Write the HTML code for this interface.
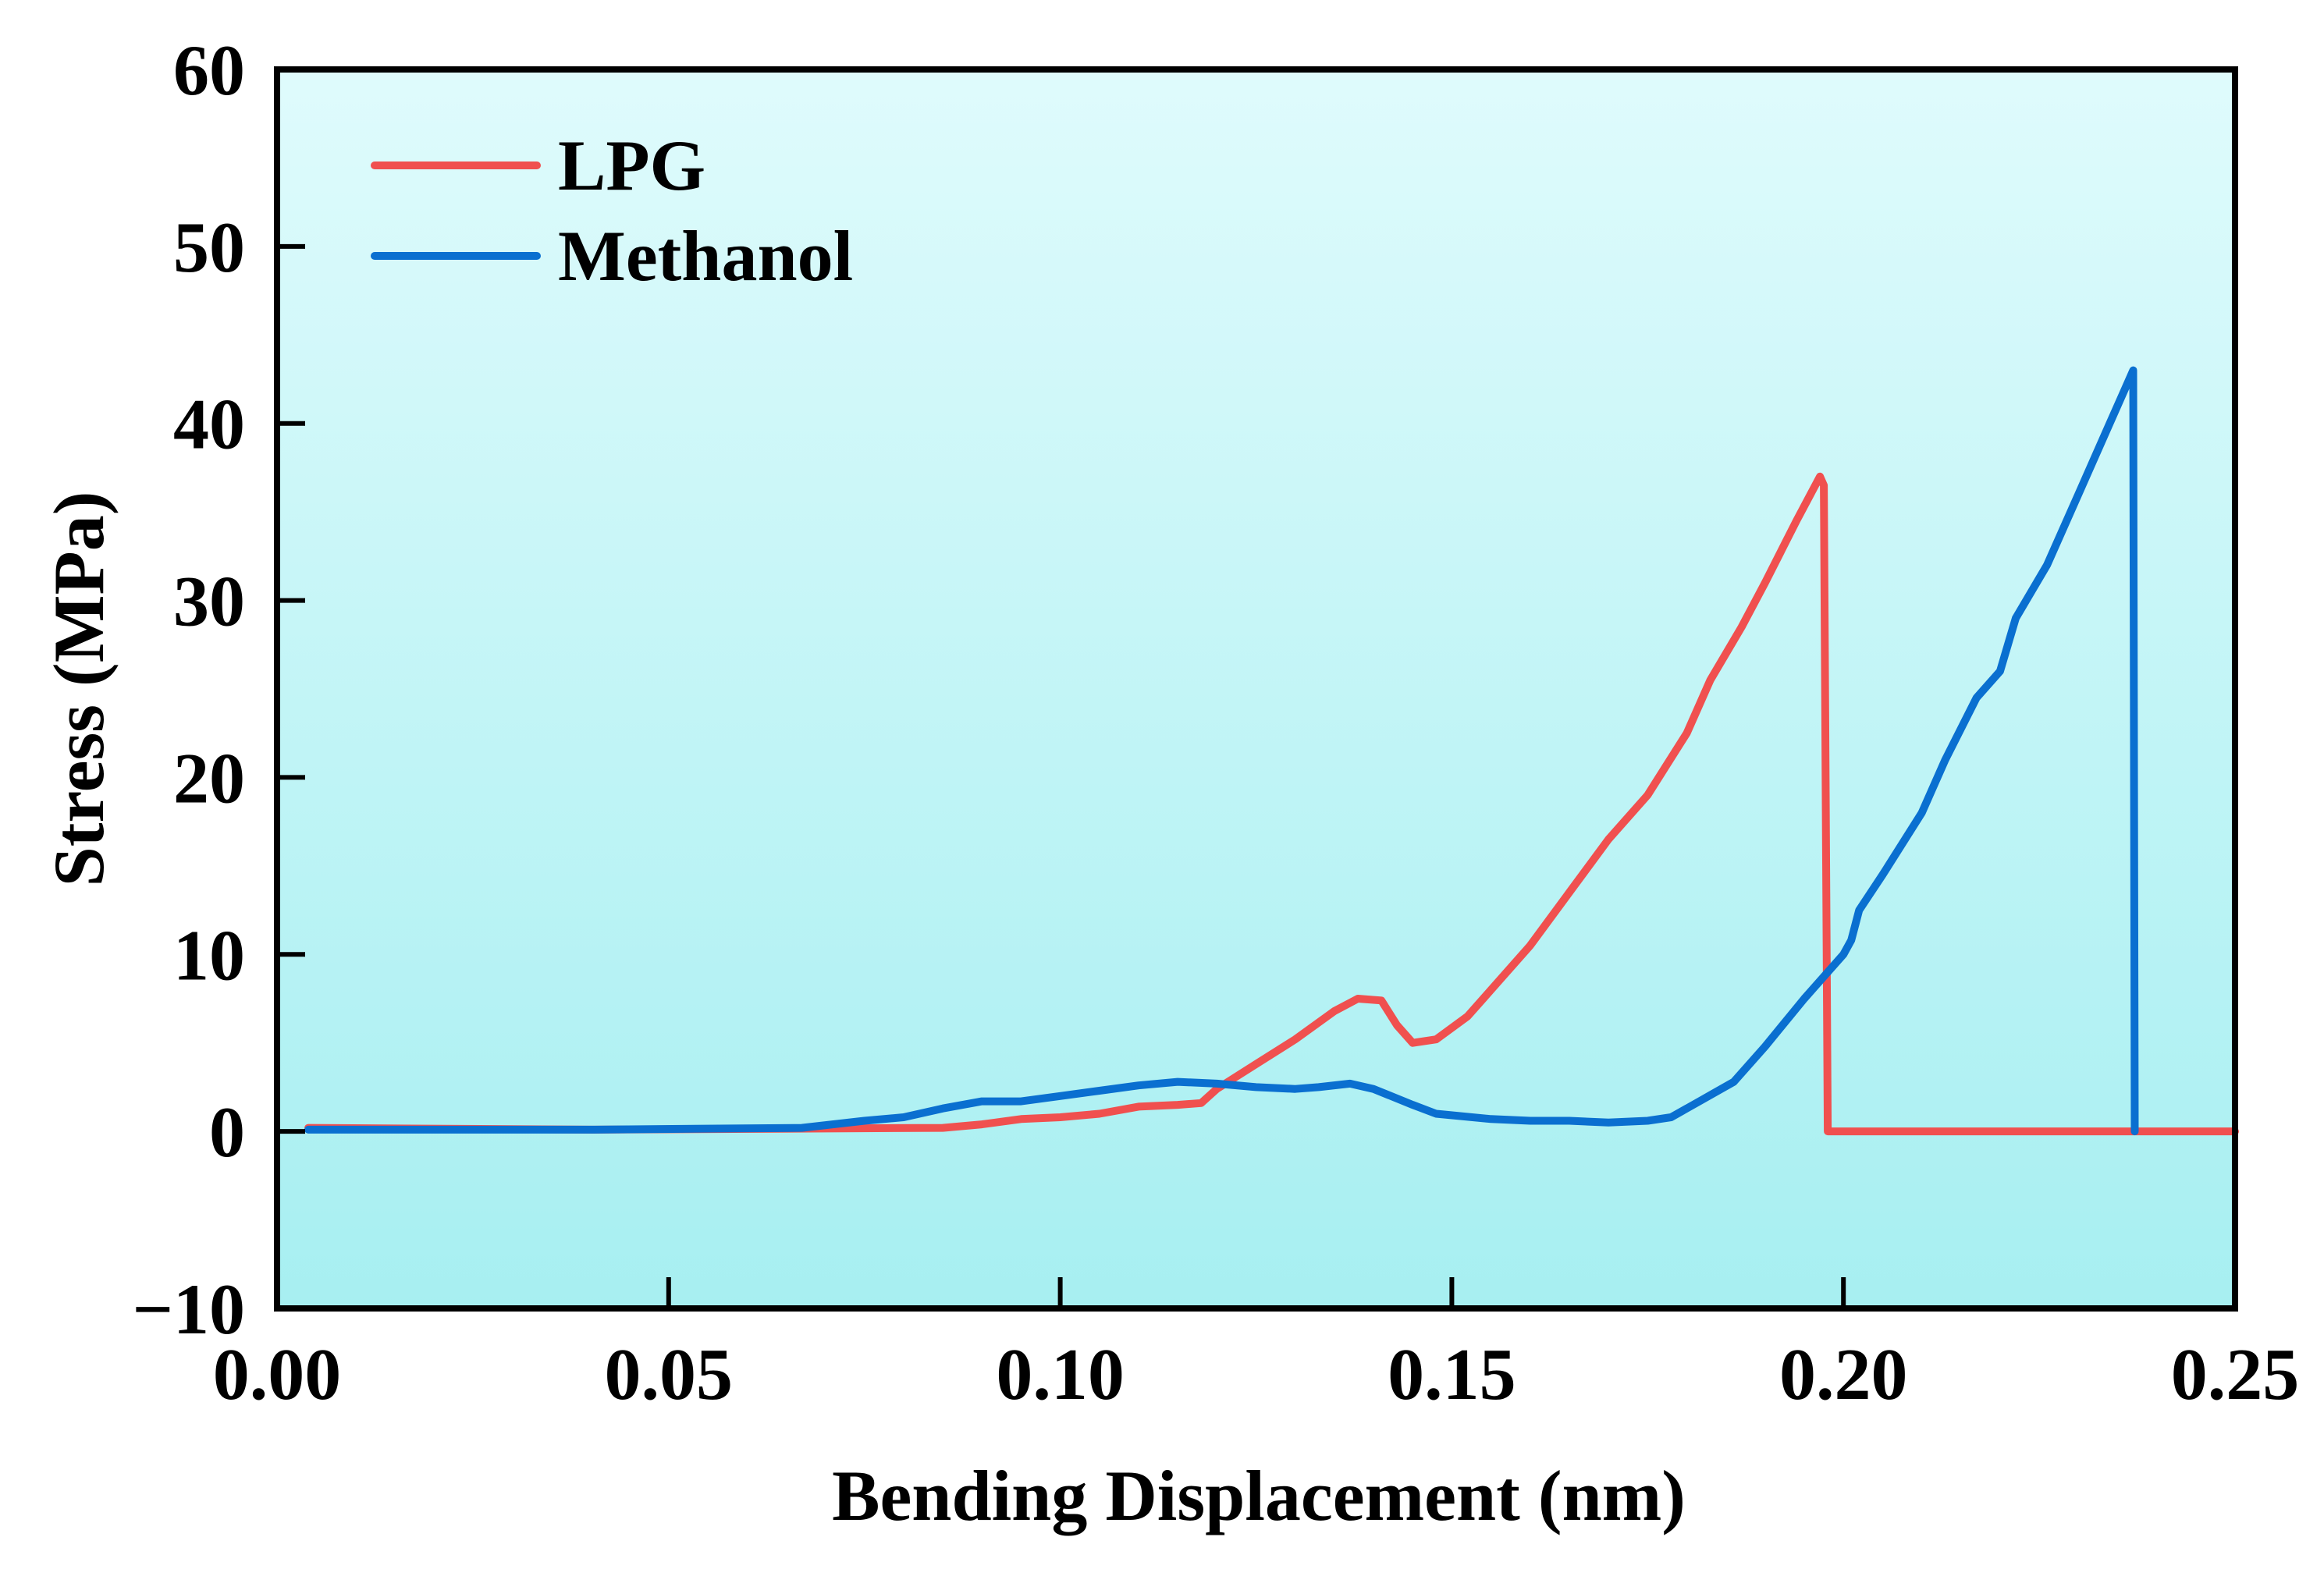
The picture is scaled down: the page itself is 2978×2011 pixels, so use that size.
<!DOCTYPE html>
<html><head><meta charset="utf-8">
<style>
html,body{margin:0;padding:0;background:#fff;}
svg{display:block;}
text{font-family:"Liberation Serif",serif;font-weight:bold;fill:#000;}
</style></head>
<body>
<svg id="chart" width="2978" height="2011" viewBox="0 0 2978 2011" xmlns="http://www.w3.org/2000/svg">
<defs>
<linearGradient id="bg" x1="0" y1="0" x2="0" y2="1">
<stop offset="0" stop-color="#dffbfc"/>
<stop offset="1" stop-color="#a7eff1"/>
</linearGradient>
</defs>
<rect x="355" y="89" width="2509" height="1588" fill="url(#bg)"/>
<g id="series"></g>
<g id="axes"></g>
<g>
<line x1="480" y1="212" x2="688" y2="212" stroke="#f0504f" stroke-width="10" stroke-linecap="round"/>
<text x="715" y="243" font-size="92">LPG</text>
<line x1="480" y1="328" x2="688" y2="328" stroke="#0a6fd0" stroke-width="10" stroke-linecap="round"/>
<text x="715" y="359" font-size="92">Methanol</text>
</g>
<text x="1613" y="1948" font-size="92" text-anchor="middle">Bending Displacement (nm)</text>
<text transform="translate(132,883) rotate(-90)" font-size="92" text-anchor="middle">Stress (MPa)</text>
</svg>
<script>
const xTicks = [0, 0.05, 0.10, 0.15, 0.20, 0.25];
const xTickLabels = ["0.00","0.05","0.10","0.15","0.20","0.25"];
const yTicks = [-10, 0, 10, 20, 30, 40, 50, 60];
const yTickLabels = ["\u221210","0","10","20","30","40","50","60"];
const lpgX = [0.004,0.04,0.085,0.09,0.095,0.1,0.105,0.11,0.115,0.118,0.12,0.125,0.13,0.135,0.138,0.141,0.143,0.145,0.148,0.152,0.155,0.16,0.165,0.17,0.175,0.18,0.183,0.187,0.19,0.194,0.197,0.1975,0.198,0.25];
const lpgY = [0.2,0.1,0.2,0.4,0.7,0.8,1.0,1.4,1.5,1.6,2.4,3.8,5.2,6.8,7.5,7.4,6.0,5.0,5.2,6.5,8.0,10.5,13.5,16.5,19.0,22.5,25.5,28.5,31.0,34.5,37.0,36.5,0,0];
const metX = [0.004,0.04,0.067,0.075,0.08,0.085,0.09,0.095,0.1,0.105,0.11,0.115,0.12,0.125,0.13,0.133,0.137,0.14,0.145,0.148,0.155,0.16,0.165,0.17,0.175,0.178,0.182,0.186,0.19,0.195,0.2,0.201,0.202,0.205,0.21,0.213,0.217,0.22,0.222,0.226,0.23,0.234,0.236,0.237,0.2372];
const metY = [0.1,0.1,0.2,0.6,0.8,1.3,1.7,1.7,2.0,2.3,2.6,2.8,2.7,2.5,2.4,2.5,2.7,2.4,1.5,1.0,0.7,0.6,0.6,0.5,0.6,0.8,1.8,2.8,4.8,7.5,10.0,10.8,12.5,14.5,18.0,21.0,24.5,26.0,29.0,32.0,36.0,40.0,42.0,43.0,0];

const X0=355, X1=2864, Y0=1677, Y1=89;
function sx(v){return X0+(v-0)/(0.25-0)*(X1-X0);}
function sy(v){return Y0-(v-(-10))/(60-(-10))*(Y0-Y1);}
const NS="http://www.w3.org/2000/svg";
const series=document.getElementById('series');
function drawLine(xs,ys,color,name){
  const p=document.createElementNS(NS,'polyline');
  p.setAttribute('points',xs.map((x,i)=>sx(x).toFixed(1)+','+sy(ys[i]).toFixed(1)).join(' '));
  p.setAttribute('fill','none');p.setAttribute('stroke',color);
  p.setAttribute('stroke-width','10');p.setAttribute('stroke-linejoin','round');p.setAttribute('stroke-linecap','round');
  
  
  series.appendChild(p);
}
drawLine(lpgX,lpgY,'#f0504f','lpg-line');
drawLine(metX,metY,'#0a6fd0','methanol-line');

const axes=document.getElementById('axes');
const frame=document.createElementNS(NS,'rect');
frame.setAttribute('x',X0);frame.setAttribute('y',Y1);frame.setAttribute('width',X1-X0);frame.setAttribute('height',Y0-Y1);
frame.setAttribute('fill','none');frame.setAttribute('stroke','#000');frame.setAttribute('stroke-width','8');


axes.appendChild(frame);
xTicks.forEach((v,i)=>{
  const t=document.createElementNS(NS,'line');
  t.setAttribute('x1',sx(v));t.setAttribute('x2',sx(v));t.setAttribute('y1',Y0);t.setAttribute('y2',Y0-40);
  t.setAttribute('stroke','#000');t.setAttribute('stroke-width','6');
  
  
  axes.appendChild(t);
  const l=document.createElementNS(NS,'text');
  l.setAttribute('x',sx(v));l.setAttribute('y',1793);l.setAttribute('font-size','94');l.setAttribute('text-anchor','middle');
  l.textContent=xTickLabels[i];
  
  
  axes.appendChild(l);
});
yTicks.forEach((v,i)=>{
  const t=document.createElementNS(NS,'line');
  t.setAttribute('x1',X0);t.setAttribute('x2',X0+36);t.setAttribute('y1',sy(v));t.setAttribute('y2',sy(v));
  t.setAttribute('stroke','#000');t.setAttribute('stroke-width','6');
  
  
  axes.appendChild(t);
  const l=document.createElementNS(NS,'text');
  l.setAttribute('x',314);l.setAttribute('y',sy(v)+32);l.setAttribute('font-size','92');l.setAttribute('text-anchor','end');
  l.textContent=yTickLabels[i];
  
  
  axes.appendChild(l);
});
</script>
</body></html>
